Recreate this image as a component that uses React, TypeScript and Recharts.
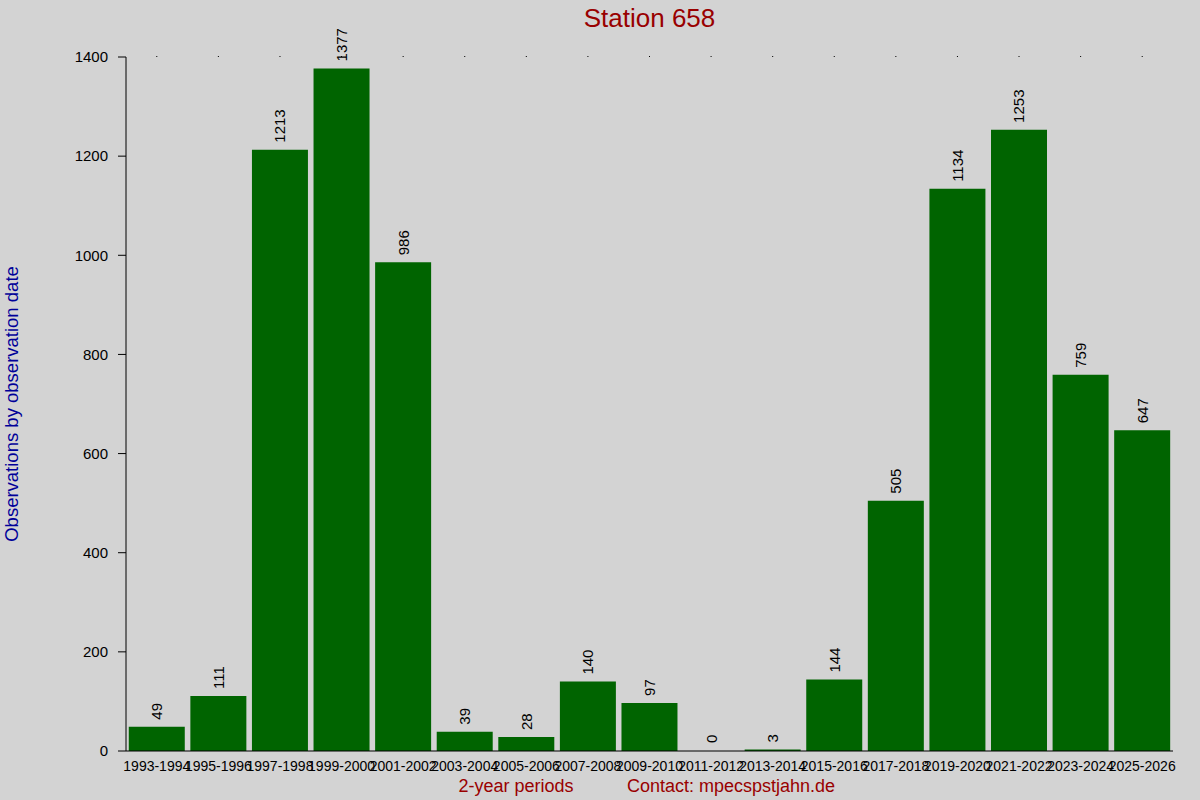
import { BarChart, Bar, XAxis, YAxis, LabelList } from 'recharts';

const periods = [
  '1993-1994', '1995-1996', '1997-1998', '1999-2000', '2001-2002', '2003-2004',
  '2005-2006', '2007-2008', '2009-2010', '2011-2012', '2013-2014', '2015-2016',
  '2017-2018', '2019-2020', '2021-2022', '2023-2024', '2025-2026',
];
const observations = [49, 111, 1213, 1377, 986, 39, 28, 140, 97, 0, 3, 144, 505, 1134, 1253, 759, 647];
const yTicks = [0, 200, 400, 600, 800, 1000, 1200, 1400];

const data = periods.map((period, i) => ({ period, count: observations[i] }));

const font = 'Liberation Sans, Arial, sans-serif';

function ValueLabel(props: any) {
  const { x, y, width, height, value } = props;
  const cx = x + width / 2;
  // labels sit just above the bar top
  const top = Math.min(y, y + height);
  const ty = top - 7;
  return (
    <text
      x={cx}
      y={ty}
      transform={`rotate(-90, ${cx}, ${ty})`}
      textAnchor="start"
      dominantBaseline="central"
      fontSize={15}
      fontFamily={font}
      fill="#000"
    >
      {value}
    </text>
  );
}

const emptyTick = () => <g />;

export default function App() {
  return (
    <div style={{ position: 'relative', width: 1200, height: 800, background: '#d3d3d3', fontFamily: font }}>
      <style>{'body{margin:0}'}</style>
      <BarChart
        width={1200}
        height={800}
        data={data}
        margin={{ top: 56, right: 27, left: 0, bottom: 29 }}
        barCategoryGap="4.5%"
      >
        <XAxis
          dataKey="period"
          tickLine={false}
          axisLine={{ stroke: '#000' }}
          tick={{ fill: '#000', fontSize: 14, fontFamily: font }}
          tickMargin={4}
          interval={0}
          height={20}
        />
        <XAxis
          xAxisId="top"
          orientation="top"
          dataKey="period"
          axisLine={false}
          tick={emptyTick}
          tickSize={1}
          tickLine={{ stroke: '#000' }}
          height={1}
          interval={0}
        />
        <YAxis
          domain={[0, 1400]}
          ticks={yTicks}
          width={126}
          tickSize={8}
          tickMargin={10}
          axisLine={{ stroke: '#000' }}
          tickLine={{ stroke: '#000' }}
          tick={{ fill: '#000', fontSize: 15, fontFamily: font }}
        />
        <Bar dataKey="count" fill="#006400" isAnimationActive={false} />
        <Bar dataKey="count" xAxisId="top" fill="none" minPointSize={1} isAnimationActive={false}>
          <LabelList dataKey="count" content={ValueLabel} />
        </Bar>
      </BarChart>
      <svg width={1200} height={800} style={{ position: 'absolute', left: 0, top: 0, pointerEvents: 'none' }}>
        <text x={649.5} y={27} textAnchor="middle" fontSize={26} fontFamily={font} fill="#990000">
          Station 658
        </text>
        <text
          x={18}
          y={404}
          transform="rotate(-90, 18, 404)"
          textAnchor="middle"
          fontSize={18.5}
          fontFamily={font}
          fill="#000099"
        >
          Observations by observation date
        </text>
        <text x={516} y={792} textAnchor="middle" fontSize={18} fontFamily={font} fill="#990000">
          2-year periods
        </text>
        <text x={627} y={792} textAnchor="start" fontSize={18} fontFamily={font} fill="#990000">
          Contact: mpecspstjahn.de
        </text>
      </svg>
    </div>
  );
}
